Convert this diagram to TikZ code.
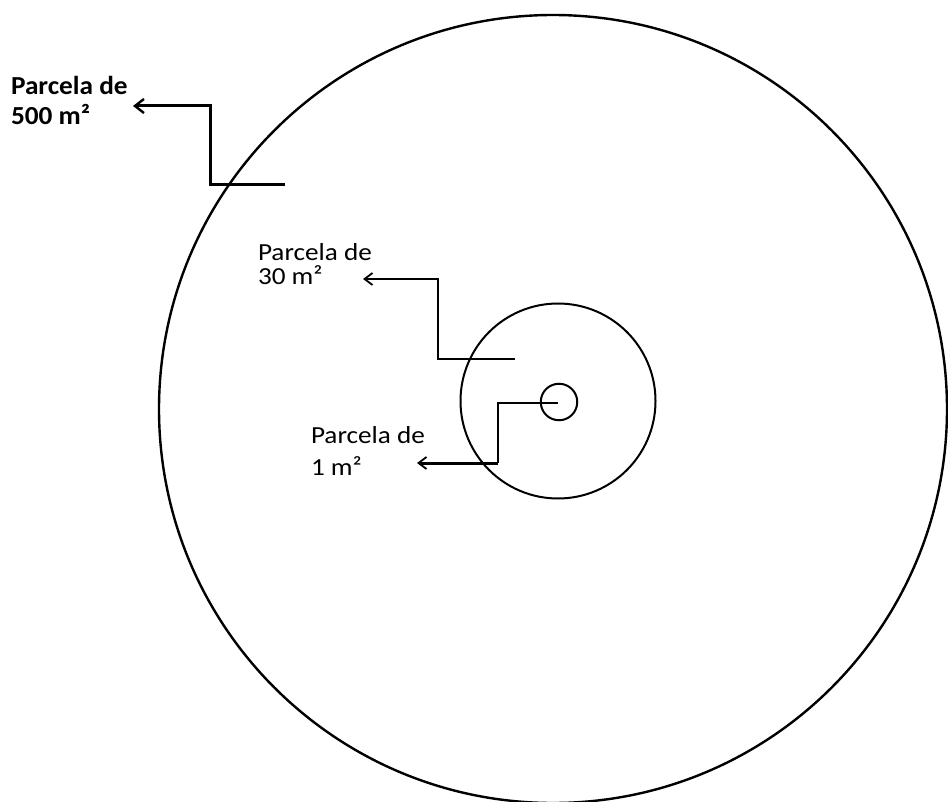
\documentclass[tikz,border=0pt]{standalone}
\usepackage{fontspec}
\usetikzlibrary{arrows.meta}
\newfontfamily\labfont[FakeStretch=1.11]{Carlito}
\newfontfamily\labfontbold[FakeStretch=1.05]{Carlito Bold}
\tikzset{
  ring/.style={circle, draw, inner sep=0pt, outer sep=0pt},
  lbl/.style={anchor=base west, inner sep=0pt, outer sep=0pt, align=left,
              font=\labfont\fontsize{24.5}{24.5}\selectfont},
  lblbold/.style={anchor=base west, inner sep=0pt, outer sep=0pt, align=left,
              font=\labfontbold\fontsize{26}{26}\selectfont},
  pointer/.style={line join=miter},
  bighead/.style={-{Straight Barb[length=9pt,width=14pt,line width=2.4pt]}},
  thinhead/.style={-{Straight Barb[length=8pt,width=12pt,line width=1.8pt]}}
}
\begin{document}
\begin{tikzpicture}[x=1pt,y=-1pt]
\useasboundingbox (0,0) rectangle (948,802);
% circles
\node[ring, line width=2.4pt, minimum size=788pt] (big) at (553,409) {};
\node[ring, line width=2pt, minimum size=195pt] (mid) at (558,401) {};
\node[ring, line width=2pt, minimum size=36.5pt] (small) at (559,402) {};
% labels (anchored at the baseline of the last line)
\node[lblbold] (l500) at (11,125) {Parcela de\\[4pt]500 m²};
\node[lbl] (l30) at (258,285) {Parcela de\\[0pt]30 m²};
\node[lbl] (l1) at (311,475) {Parcela de\\[7.5pt]1 m²};
% pointer coordinates
\coordinate (s500) at (285,185);
\coordinate (a500) at (210,185);
\coordinate (b500) at (210,106);
\coordinate (t500) at (133,106);
\coordinate (s30) at (515,359);
\coordinate (a30) at (438,359);
\coordinate (b30) at (438,279);
\coordinate (t30) at (363,279);
\coordinate (s1) at (558,403);
\coordinate (a1) at (498,403);
\coordinate (b1) at (498,463);
\coordinate (t1) at (417,463);
% pointers
\draw[pointer, bighead, line width=3pt] (s500) -- (a500) -- (b500) -- (t500);
\draw[pointer, thinhead, line width=2pt] (s30) -- (a30) -- (b30) -- (t30);
\draw[pointer, line width=2pt] (s1) -- (a1) -- (b1);
\draw[pointer, thinhead, line width=3pt] (b1) -- (t1);
\end{tikzpicture}
\end{document}
